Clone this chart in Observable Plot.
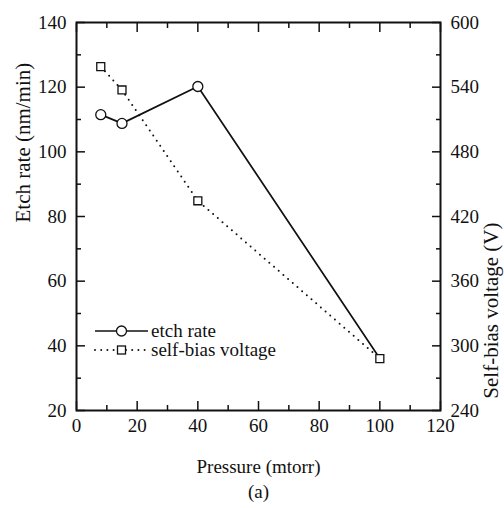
<!DOCTYPE html>
<html><head><meta charset="utf-8">
<script src="https://cdn.jsdelivr.net/npm/d3@7"></script>
<script src="https://cdn.jsdelivr.net/npm/@observablehq/plot@0.6"></script>
<style>
body{margin:0;background:#fff}
#chart svg, #chart svg text { font-family: "Liberation Serif", "Times New Roman", serif !important; }
</style>
</head><body><div id="chart"></div>
<script>
// ---- data ----
const pressure = [8, 15, 40, 100];            // mtorr
const etchRate = [111.5, 108.8, 120.2, 36.1]; // nm/min
const selfBias = [559, 537.4, 434.6, 288.2];  // V
const xTicks = [0, 20, 40, 60, 80, 100, 120];
const xMinor = [10, 30, 50, 70, 90, 110];
const leftTicks = [20, 40, 60, 80, 100, 120, 140];
const leftMinor = [30, 50, 70, 90, 110, 130];
const rightTicks = [240, 300, 360, 420, 480, 540, 600];
const rightMinor = [270, 330, 390, 450, 510, 570];
const legendLabels = ["etch rate", "self-bias voltage"];
const xTitle = "Pressure (mtorr)";
const yLeftTitle = "Etch rate (nm/min)";
const yRightTitle = "Self-bias voltage (V)";
const panelLabel = "(a)";

const eDomain = [20, 140], vDomain = [240, 600];
const v2e = v => eDomain[0] + (v - vDomain[0]) * (eDomain[1] - eDomain[0]) / (vDomain[1] - vDomain[0]);
const e2v = e => vDomain[0] + (e - eDomain[0]) * (vDomain[1] - vDomain[0]) / (eDomain[1] - eDomain[0]);

const etchData = pressure.map((p, i) => ({p, e: etchRate[i]}));
const biasData = pressure.map((p, i) => ({p, v: selfBias[i], e: v2e(selfBias[i])}));

const ink = "#111";
const serif = "Liberation Serif, Times New Roman, serif";
const dots = "0,6.2";

function legend(index, scales, values, dim) {
  const g = d3.create("svg:g").attr("font-size", 19).attr("fill", ink)
    .attr("text-anchor", "start");
  const x0 = dim.marginLeft + 19, len = 53;
  const yBase = dim.height - dim.marginBottom - 79;
  legendLabels.forEach((label, i) => {
    const y = yBase + i * 19;
    g.append("line").attr("x1", x0).attr("x2", x0 + len).attr("y1", y).attr("y2", y)
      .attr("stroke", ink).attr("stroke-width", i === 0 ? 1.7 : 2)
      .attr("stroke-linecap", i === 0 ? "butt" : "round")
      .attr("stroke-dasharray", i === 0 ? null : dots);
    if (i === 0) {
      g.append("circle").attr("cx", x0 + len / 2).attr("cy", y).attr("r", 5)
        .attr("fill", "white").attr("stroke", ink).attr("stroke-width", 1.3);
    } else {
      g.append("rect").attr("x", x0 + len / 2 - 4).attr("y", y - 4).attr("width", 8).attr("height", 8)
        .attr("fill", "white").attr("stroke", ink).attr("stroke-width", 1.3);
    }
    g.append("text").attr("x", x0 + len + 3).attr("y", y).attr("dy", "0.32em")
      .attr("text-anchor", "start").text(label);
  });
  return g.node();
}

const chart = Plot.plot({
  width: 504, height: 508,
  marginLeft: 76, marginRight: 64, marginTop: 22, marginBottom: 98,
  style: {fontFamily: serif, fontSize: "19px", color: ink, background: "#fff"},
  x: {domain: [0, 120]},
  y: {domain: eDomain},
  marks: [
    // bottom axis
    Plot.axisX({ticks: xTicks, tickSize: 0, tickPadding: 8, label: null, fontSize: 19}),
    Plot.axisX({ticks: xTicks, tickSize: -9, tickFormat: () => "", label: null, strokeWidth: 1.5}),
    Plot.axisX({ticks: xMinor, tickSize: -5, tickFormat: () => "", label: null, strokeWidth: 1.5}),
    // top axis ticks
    Plot.axisX({anchor: "top", ticks: xTicks, tickSize: -9, tickFormat: () => "", label: null, strokeWidth: 1.5}),
    Plot.axisX({anchor: "top", ticks: xMinor, tickSize: -5, tickFormat: () => "", label: null, strokeWidth: 1.5}),
    // left axis
    Plot.axisY({ticks: leftTicks, tickSize: 0, tickPadding: 10, label: null, fontSize: 19}),
    Plot.axisY({ticks: leftTicks, tickSize: -9, tickFormat: () => "", label: null, strokeWidth: 1.5}),
    Plot.axisY({ticks: leftMinor, tickSize: -5, tickFormat: () => "", label: null, strokeWidth: 1.5}),
    // right axis (self-bias voltage)
    Plot.axisY({anchor: "right", ticks: rightTicks.map(v2e), tickFormat: e => String(Math.round(e2v(e))),
      tickSize: 0, tickPadding: 10, label: null, fontSize: 19}),
    Plot.axisY({anchor: "right", ticks: rightTicks.map(v2e), tickSize: -9, tickFormat: () => "", label: null, strokeWidth: 1.5}),
    Plot.axisY({anchor: "right", ticks: rightMinor.map(v2e), tickSize: -5, tickFormat: () => "", label: null, strokeWidth: 1.5}),
    Plot.frame({stroke: ink, strokeWidth: 2}),
    // series
    Plot.line(biasData, {x: "p", y: "e", stroke: ink, strokeWidth: 2, strokeDasharray: dots, strokeLinecap: "round"}),
    Plot.line(etchData, {x: "p", y: "e", stroke: ink, strokeWidth: 1.7}),
    Plot.dot(etchData, {x: "p", y: "e", r: 5, fill: "white", stroke: ink, strokeWidth: 1.3,
      filter: (d, i) => Math.abs(d.e - biasData[i].e) > 2}),
    Plot.dot(biasData, {x: "p", y: "e", symbol: "square", r: 4.5, fill: "white", stroke: ink, strokeWidth: 1.3}),
    // titles
    Plot.text([xTitle], {text: d => d, frameAnchor: "bottom", dy: 56, lineAnchor: "middle", fontSize: 19, fill: ink}),
    Plot.text([panelLabel], {text: d => d, frameAnchor: "bottom", dy: 81, lineAnchor: "middle", fontSize: 19, fill: ink}),
    Plot.text([yLeftTitle], {text: d => d, frameAnchor: "left", rotate: -90, dx: -53, dy: 6, lineAnchor: "middle", fontSize: 21, fill: ink}),
    Plot.text([yRightTitle], {text: d => d, frameAnchor: "right", rotate: -90, dx: 51, dy: 6, lineAnchor: "middle", fontSize: 21, fill: ink}),
    legend
  ]
});
document.getElementById("chart").append(chart);
</script>
</body></html>
